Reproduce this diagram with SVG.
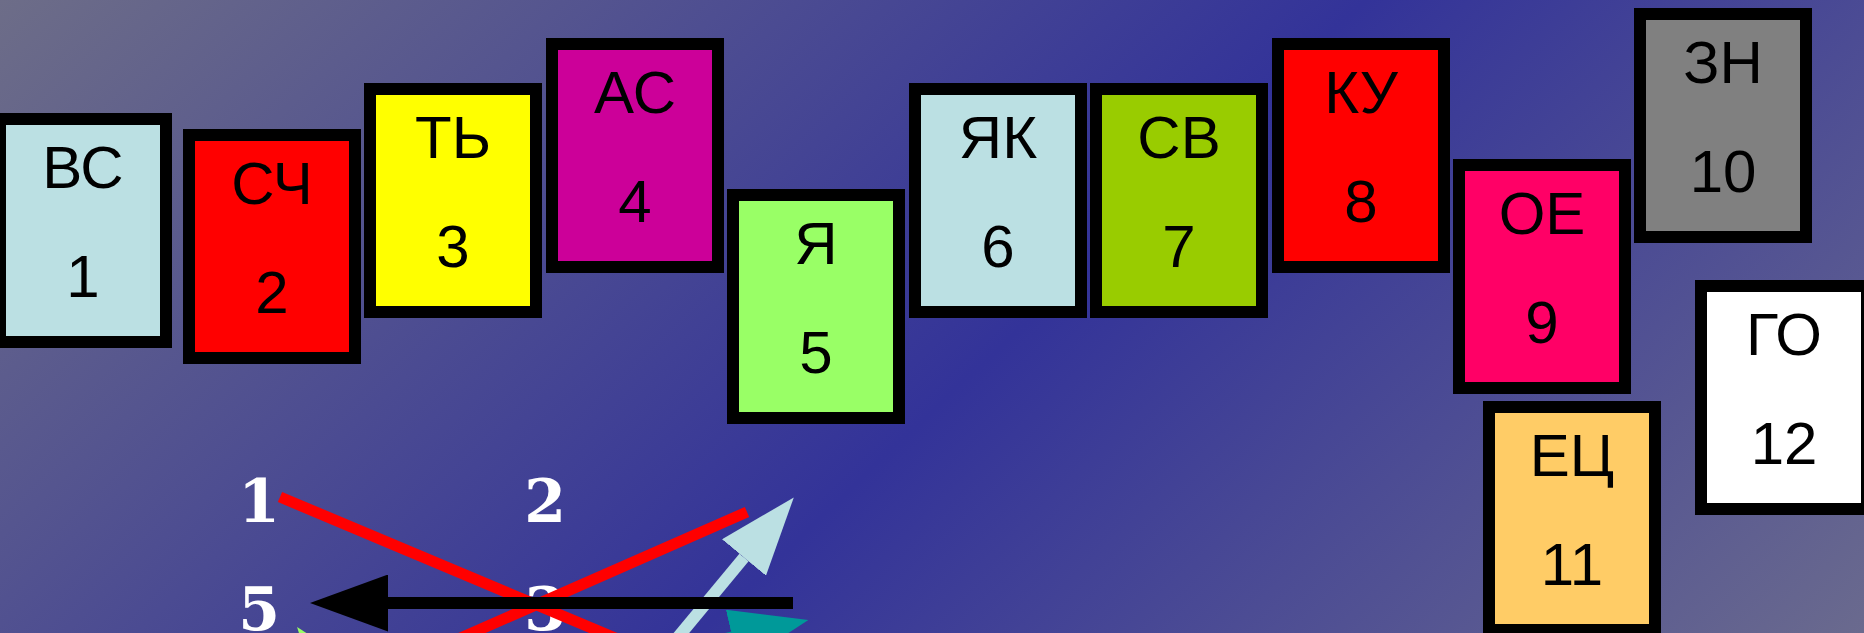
<svg xmlns="http://www.w3.org/2000/svg" width="1864" height="633" viewBox="0 0 1864 633">
<style>
.box{stroke:#000;stroke-width:12}
.lbl{font-family:"Liberation Sans",Arial,sans-serif;font-size:60px;fill:#000;text-anchor:middle}
.num{font-family:"DejaVu Serif","Liberation Serif",serif;font-weight:bold;font-size:60px;fill:#fff;text-anchor:middle}
.red{stroke:#FF0000;stroke-width:11;stroke-linecap:butt;fill:none}
</style>
<defs>
<linearGradient id="bg" gradientUnits="userSpaceOnUse" x1="0" y1="0" x2="1199" y2="1263">
<stop offset="0" stop-color="#6D6D88"/>
<stop offset="0.54" stop-color="#333399"/>
<stop offset="1" stop-color="#6A6A8E"/>
</linearGradient>
<marker id="ah-black" viewBox="0 0 78 57" refX="0" refY="28.5" markerUnits="userSpaceOnUse" markerWidth="78" markerHeight="57" orient="auto"><path d="M0,0 L78,28.5 L0,57 Z" fill="#000"/></marker>
<marker id="ah-lb" viewBox="0 0 78 57" refX="0" refY="28.5" markerUnits="userSpaceOnUse" markerWidth="78" markerHeight="57" orient="auto"><path d="M0,0 L78,28.5 L0,57 Z" fill="#BBE0E3"/></marker>
<marker id="ah-teal" viewBox="0 0 78 57" refX="0" refY="28.5" markerUnits="userSpaceOnUse" markerWidth="78" markerHeight="57" orient="auto"><path d="M0,0 L78,28.5 L0,57 Z" fill="#009999"/></marker>
<marker id="ah-green" viewBox="0 0 78 57" refX="0" refY="28.5" markerUnits="userSpaceOnUse" markerWidth="78" markerHeight="57" orient="auto"><path d="M0,0 L78,28.5 L0,57 Z" fill="#99FF66"/></marker>
</defs>
<rect x="0" y="0" width="1864" height="633" fill="url(#bg)"/>

<g id="n1"><rect class="box" x="0" y="119" width="166" height="223" fill="#BBE0E3"/><text class="lbl" x="83" y="188">ВС</text><text class="lbl" x="83" y="297">1</text></g>
<g id="n2"><rect class="box" x="189" y="135" width="166" height="223" fill="#FF0000"/><text class="lbl" x="272" y="204">СЧ</text><text class="lbl" x="272" y="313">2</text></g>
<g id="n3"><rect class="box" x="370" y="89" width="166" height="223" fill="#FFFF00"/><text class="lbl" x="453" y="158">ТЬ</text><text class="lbl" x="453" y="267">3</text></g>
<g id="n4"><rect class="box" x="552" y="44" width="166" height="223" fill="#CC0099"/><text class="lbl" x="635" y="113">АС</text><text class="lbl" x="635" y="222">4</text></g>
<g id="n5"><rect class="box" x="733" y="195" width="166" height="223" fill="#99FF66"/><text class="lbl" x="816" y="264">Я</text><text class="lbl" x="816" y="373">5</text></g>
<g id="n6"><rect class="box" x="915" y="89" width="166" height="223" fill="#BBE0E3"/><text class="lbl" x="998" y="158">ЯК</text><text class="lbl" x="998" y="267">6</text></g>
<g id="n7"><rect class="box" x="1096" y="89" width="166" height="223" fill="#99CC00"/><text class="lbl" x="1179" y="158">СВ</text><text class="lbl" x="1179" y="267">7</text></g>
<g id="n8"><rect class="box" x="1278" y="44" width="166" height="223" fill="#FF0000"/><text class="lbl" x="1361" y="113">КУ</text><text class="lbl" x="1361" y="222">8</text></g>
<g id="n9"><rect class="box" x="1459" y="165" width="166" height="223" fill="#FF0066"/><text class="lbl" x="1542" y="234">ОЕ</text><text class="lbl" x="1542" y="343">9</text></g>
<g id="n10"><rect class="box" x="1640" y="14" width="166" height="223" fill="#808080"/><text class="lbl" x="1723" y="83">ЗН</text><text class="lbl" x="1723" y="192">10</text></g>
<g id="n11"><rect class="box" x="1489" y="407" width="166" height="223" fill="#FFCC66"/><text class="lbl" x="1572" y="476">ЕЦ</text><text class="lbl" x="1572" y="585">11</text></g>
<g id="n12"><rect class="box" x="1701" y="286" width="166" height="223" fill="#FFFFFF"/><text class="lbl" x="1784" y="355">ГО</text><text class="lbl" x="1784" y="464">12</text></g>

<g id="labels">
<text class="num" x="259" y="522">1</text>
<text class="num" x="545" y="522">2</text>
<text class="num" x="259" y="630">5</text>
<text class="num" x="545" y="630">3</text>
</g>

<g id="connectors">
<line class="red" x1="280" y1="497" x2="620" y2="640"/>
<line class="red" x1="747" y1="512" x2="456" y2="640"/>
<line x1="405" y1="768" x2="344.5" y2="689" stroke="#99FF66" stroke-width="12" marker-end="url(#ah-green)"/>
<line x1="586" y1="671" x2="732.3" y2="637.5" stroke="#009999" stroke-width="12" marker-end="url(#ah-teal)"/>
<line x1="659" y1="660" x2="744" y2="557.5" stroke="#BBE0E3" stroke-width="12" marker-end="url(#ah-lb)"/>
<line x1="793" y1="603" x2="388" y2="603" stroke="#000" stroke-width="12" marker-end="url(#ah-black)"/>
</g>
</svg>
